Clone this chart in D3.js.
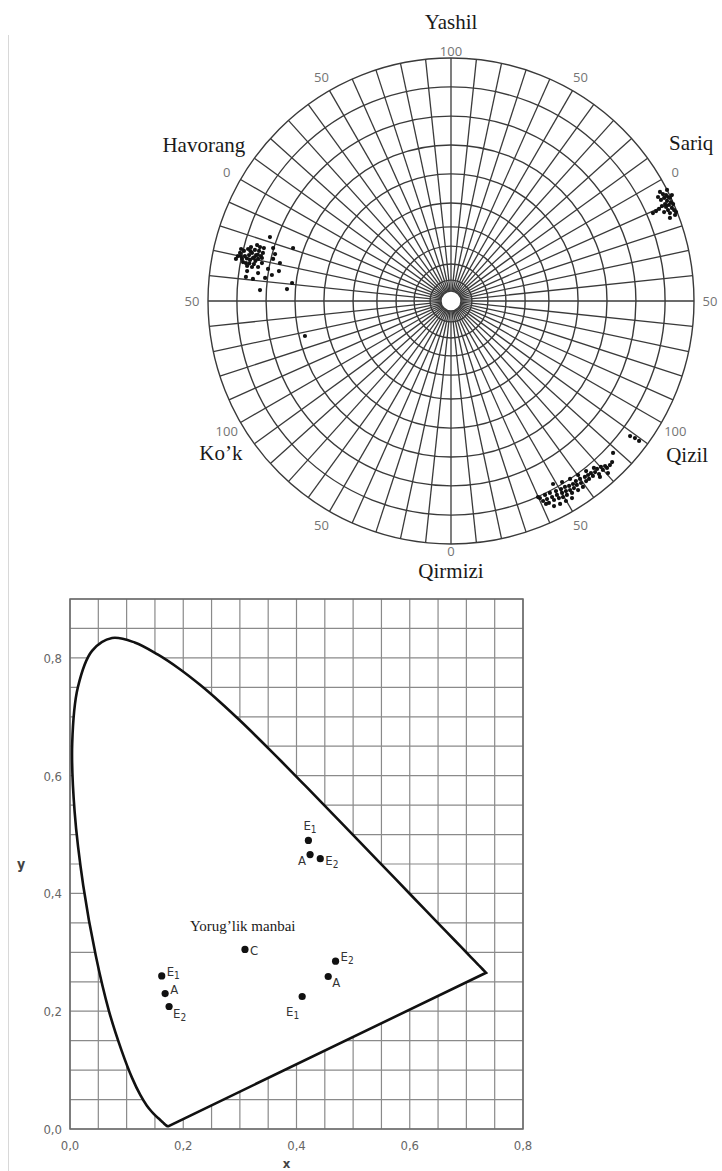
<!DOCTYPE html>
<html>
<head>
<meta charset="utf-8">
<script src="https://cdn.jsdelivr.net/npm/d3@7"></script>
<style>
  html, body { margin: 0; padding: 0; background: #fff; }
  svg { display: block; }
</style>
</head>
<body>
<svg id="chart" width="722" height="1171"></svg>
<script>
// ---------- Hue circle data ----------
const hueNames  = ["Yashil", "Sariq", "Qizil", "Qirmizi", "Ko\u2019k", "Havorang"];
const hueAngles = [90, 30, -30, -90, -150, 150];

const rimLabels = ["100", "50", "0", "50", "100", "50", "0", "50", "100", "50", "0", "50"];
const rimAngles = [90, 60, 30, 0, -30, -60, -90, -120, -150, 180, 150, 120];

// chroma levels of the concentric rings (outer ring = 100)
const ringLevels = [8.6, 15.2, 22.6, 30.5, 40.3, 52.3, 64.2, 76.1, 88.1, 100];
const holeLevel = 4.1;
const spokeStep = 6; // degrees between radial lines

// measured samples, [a, b] in chroma units
const havorangPts = [
  [-87.7,18.5],[-86.8,19.8],[-86.0,17.3],[-85.2,20.6],[-84.8,18.5],[-84.4,15.6],[-83.5,21.4],
  [-83.1,18.9],[-82.7,16.9],[-82.3,22.2],[-81.9,19.8],[-81.5,17.7],[-81.1,15.2],[-80.7,21.0],
  [-80.2,18.9],[-79.8,23.0],[-79.4,17.3],[-79.0,20.6],[-78.6,22.2],[-78.2,18.5],[-77.8,15.6],
  [-85.6,16.0],[-83.9,14.4],[-81.9,14.0],[-79.4,14.0],[-77.4,19.8],[-77.0,21.8],[-86.4,21.4],
  [-88.5,17.3],[-77.8,17.7],[-74.5,26.3],[-73.2,21.8],[-72.4,19.3],[-65.0,21.8],[-73.2,17.3],
  [-65.4,7.4],[-67.5,4.9],[-78.6,4.5],[-73.7,10.7],[-83.9,12.3],[-81.5,9.1],[-76.5,9.5],
  [-84.4,9.9],[-79.4,11.5],[-75.3,13.2],[-60.1,-14.4],[-70.4,15.6],[-70.8,12.3],
  [-84.0,17.5],[-82.5,20.5],[-80.5,16.5],[-83.0,15.5],[-81.0,18.0],[-79.5,19.0],[-86.5,18.5]
];
const sariqPts = [
  [86.0,44.9],[87.2,44.0],[88.5,43.6],[89.3,42.8],[90.1,42.4],[87.7,42.4],[86.4,41.6],
  [88.9,41.2],[90.5,40.7],[91.4,39.9],[88.1,39.9],[89.7,39.5],[86.8,39.1],[88.5,38.7],
  [90.9,38.3],[91.8,37.4],[89.3,37.4],[90.1,36.2],[85.6,37.9],[84.4,37.0],[83.1,36.2],
  [87.7,36.6],[92.6,36.6],[90.1,34.2],[92.2,35.4],[85.2,42.8],[90.9,43.6],[88.9,45.7]
];
const qizilPts = [
  [36.6,-81.1],[37.9,-82.3],[38.7,-79.8],[39.5,-81.5],[40.3,-83.1],[40.7,-79.0],[41.6,-80.7],
  [42.4,-81.9],[43.2,-78.2],[43.6,-79.8],[44.4,-81.1],[45.3,-77.4],[45.7,-79.0],[46.1,-80.7],
  [46.9,-76.5],[47.3,-78.2],[47.7,-79.8],[48.6,-76.1],[49.0,-77.8],[49.8,-79.0],[50.2,-75.3],
  [50.6,-77.0],[51.4,-74.1],[51.8,-75.7],[52.3,-77.8],[53.1,-73.2],[53.5,-74.9],[54.3,-76.5],
  [55.1,-72.4],[55.6,-74.1],[56.4,-71.6],[56.8,-73.2],[57.6,-70.8],[58.4,-72.0],[59.3,-70.4],
  [60.1,-69.1],[60.9,-71.2],[61.7,-68.3],[62.5,-69.5],[63.4,-67.9],[64.2,-68.7],[65.4,-67.5],
  [66.3,-66.3],[42.4,-84.4],[44.9,-83.5],[47.3,-82.3],[49.8,-81.1],[45.7,-74.5],[49.0,-73.2],
  [52.3,-71.6],[55.6,-70.0],[58.8,-68.7],[61.3,-72.4],[64.6,-70.8],[66.7,-62.5],[73.7,-55.6],
  [75.7,-56.4],[77.4,-57.6],[42.0,-75.3],[39.1,-83.5],[35.8,-80.7]
];

// ---------- Chromaticity diagram data ----------
// CIE 1931 spectral locus, 380–700 nm in 5 nm steps
const locusX = [0.1741,0.1740,0.1738,0.1736,0.1733,0.1730,0.1726,0.1721,0.1714,0.1703,0.1689,0.1669,
  0.1644,0.1611,0.1566,0.1510,0.1440,0.1355,0.1241,0.1096,0.0913,0.0687,0.0454,0.0235,0.0082,0.0039,
  0.0139,0.0389,0.0743,0.1142,0.1547,0.1929,0.2296,0.2658,0.3016,0.3373,0.3731,0.4087,0.4441,0.4788,
  0.5125,0.5448,0.5752,0.6029,0.6270,0.6482,0.6658,0.6801,0.6915,0.7006,0.7079,0.7140,0.7190,0.7230,
  0.7260,0.7283,0.7300,0.7311,0.7320,0.7327,0.7334,0.7340,0.7344,0.7346,0.7347];
const locusY = [0.0050,0.0050,0.0049,0.0049,0.0048,0.0048,0.0048,0.0048,0.0051,0.0058,0.0069,0.0086,
  0.0109,0.0138,0.0177,0.0227,0.0297,0.0399,0.0578,0.0868,0.1327,0.2007,0.2950,0.4127,0.5384,0.6548,
  0.7502,0.8120,0.8338,0.8262,0.8059,0.7816,0.7543,0.7243,0.6923,0.6589,0.6245,0.5896,0.5547,0.5202,
  0.4866,0.4544,0.4242,0.3965,0.3725,0.3514,0.3340,0.3197,0.3083,0.2993,0.2920,0.2859,0.2809,0.2770,
  0.2740,0.2717,0.2700,0.2689,0.2680,0.2673,0.2666,0.2660,0.2656,0.2654,0.2653];

const sourceNames = ["E1", "A", "E2", "C", "E2", "A", "E1", "E1", "A", "E2"];
const sourceX     = [0.421, 0.424, 0.442, 0.309, 0.469, 0.456, 0.410, 0.162, 0.168, 0.175];
const sourceY     = [0.490, 0.466, 0.459, 0.305, 0.285, 0.259, 0.225, 0.260, 0.230, 0.208];
// label placement relative to its dot
const sourceLabelPos = ["top", "leftBelow", "right", "right", "rightAbove", "rightBelow", "belowLeft", "rightAbove", "rightAbove", "rightBelow"];

const xTicks = [0, 0.2, 0.4, 0.6, 0.8];
const yTicks = [0, 0.2, 0.4, 0.6, 0.8];

const svg = d3.select("#chart");

// faint page rule on the left
svg.append("line").attr("x1", 8.5).attr("x2", 8.5).attr("y1", 35).attr("y2", 1171)
  .attr("stroke", "#d8d8d8").attr("stroke-width", 1);

// ================= Hue circle =================
const cx = 451, cy = 301, R = 243;
const rScale = d3.scaleLinear().domain([0, 100]).range([0, R]);
const aScale = d3.scaleLinear().domain([-100, 100]).range([cx - R, cx + R]);
const bScale = d3.scaleLinear().domain([-100, 100]).range([cy + R, cy - R]);
const polar = (deg, r) => [cx + r * Math.cos(deg * Math.PI / 180), cy - r * Math.sin(deg * Math.PI / 180)];

const gridColor = "#3a3a3a";
const gHue = svg.append("g");

// radial lines
const spokes = d3.range(0, 360, spokeStep);
gHue.selectAll("line.spoke").data(spokes).join("line")
  .attr("class", "spoke")
  .attr("x1", d => polar(d, rScale(holeLevel))[0])
  .attr("y1", d => polar(d, rScale(holeLevel))[1])
  .attr("x2", d => polar(d, rScale(100))[0])
  .attr("y2", d => polar(d, rScale(100))[1])
  .attr("stroke", gridColor).attr("stroke-width", 1.3);

// rings
gHue.selectAll("circle.ring").data(ringLevels).join("circle")
  .attr("class", "ring")
  .attr("cx", cx).attr("cy", cy).attr("r", d => rScale(d))
  .attr("fill", "none").attr("stroke", gridColor).attr("stroke-width", 1.4);

gHue.append("circle").attr("cx", cx).attr("cy", cy).attr("r", rScale(holeLevel))
  .attr("fill", "#fff").attr("stroke", gridColor).attr("stroke-width", 1.3);

// rim scale labels (top/bottom ones sit a little closer to the rim)
const rimRadius = a => (Math.abs(Math.abs(a) - 90) < 1 ? R + 7 : R + 16);
gHue.selectAll("text.rim").data(rimLabels).join("text")
  .attr("class", "rim")
  .attr("x", (d, i) => polar(rimAngles[i], rimRadius(rimAngles[i]))[0])
  .attr("y", (d, i) => polar(rimAngles[i], rimRadius(rimAngles[i]))[1])
  .attr("text-anchor", "middle").attr("dominant-baseline", "central")
  .attr("font-family", "Open Sans, DejaVu Sans, sans-serif").attr("font-size", 13)
  .attr("fill", "#747474").text(d => d);

// hue names
const nameOffsets = {
  "Yashil":   [0, -19],
  "Sariq":    [15, -28],
  "Qizil":    [11, 24],
  "Qirmizi":  [0, 10],
  "Ko\u2019k":[-5, 22],
  "Havorang": [-22, -26]
};
gHue.selectAll("text.hue").data(hueNames).join("text")
  .attr("class", "hue")
  .attr("x", (d, i) => polar(hueAngles[i], R + 17)[0] + nameOffsets[d][0])
  .attr("y", (d, i) => polar(hueAngles[i], R + 17)[1] + nameOffsets[d][1])
  .attr("text-anchor", "middle").attr("dominant-baseline", "central")
  .attr("font-family", "Liberation Serif, Times New Roman, serif").attr("font-size", 21)
  .attr("fill", "#1a1a1a").text(d => d);

// sample points
const allPts = havorangPts.concat(sariqPts, qizilPts);
gHue.selectAll("circle.pt").data(allPts).join("circle")
  .attr("class", "pt")
  .attr("cx", d => aScale(d[0])).attr("cy", d => bScale(d[1]))
  .attr("r", 2.1).attr("fill", "#111");

// ================= Chromaticity diagram =================
const x = d3.scaleLinear().domain([0, 0.8]).range([70, 523]);
const y = d3.scaleLinear().domain([0, 0.9]).range([1129, 599]);
const gC = svg.append("g");

const gridStep = d3.range(0, 0.8001, 0.05);
const gridStepY = d3.range(0, 0.9001, 0.05);
gC.selectAll("line.vx").data(gridStep).join("line")
  .attr("x1", d => x(d)).attr("x2", d => x(d))
  .attr("y1", y(0)).attr("y2", y(0.9))
  .attr("stroke", "#8a8a8a").attr("stroke-width", 1.2);
gC.selectAll("line.hy").data(gridStepY).join("line")
  .attr("y1", d => y(d)).attr("y2", d => y(d))
  .attr("x1", x(0)).attr("x2", x(0.8))
  .attr("stroke", "#8a8a8a").attr("stroke-width", 1.2);
gC.append("rect").attr("x", x(0)).attr("y", y(0.9))
  .attr("width", x(0.8) - x(0)).attr("height", y(0) - y(0.9))
  .attr("fill", "none").attr("stroke", "#6a6a6a").attr("stroke-width", 1.5);

const locus = locusX.map((v, i) => [v, locusY[i]]);
const locusLine = d3.line().x(d => x(d[0])).y(d => y(d[1])).curve(d3.curveCatmullRom.alpha(0.5));
gC.append("path")
  .attr("d", locusLine(locus) + "Z")
  .attr("fill", "#fff").attr("stroke", "#111").attr("stroke-width", 2.6)
  .attr("stroke-linejoin", "miter");

// axes tick labels
const tickFont = "DejaVu Sans Condensed, DejaVu Sans, sans-serif";
const fmt = d => d.toFixed(1).replace(".", ",");
gC.selectAll("text.xt").data(xTicks).join("text")
  .attr("x", d => x(d)).attr("y", y(0) + 21)
  .attr("text-anchor", "middle").attr("font-family", tickFont).attr("font-size", 13)
  .attr("fill", "#666").text(fmt);
gC.selectAll("text.yt").data(yTicks).join("text")
  .attr("x", x(0) - 8).attr("y", d => y(d) + 5)
  .attr("text-anchor", "end").attr("font-family", tickFont).attr("font-size", 13)
  .attr("fill", "#666").text(fmt);
gC.append("text").attr("x", (x(0) + x(0.8)) / 2 - 10).attr("y", 1168)
  .attr("text-anchor", "middle").attr("font-family", tickFont).attr("font-size", 13)
  .attr("font-weight", "bold").attr("fill", "#444").text("x");
gC.append("text").attr("x", 21).attr("y", y(0.45) + 5)
  .attr("text-anchor", "middle").attr("font-family", tickFont).attr("font-size", 14)
  .attr("font-weight", "bold").attr("fill", "#444").text("y");

// light sources
const sources = sourceNames.map((n, i) => ({ n, x: sourceX[i], y: sourceY[i], p: sourceLabelPos[i] }));
gC.selectAll("circle.src").data(sources).join("circle")
  .attr("cx", d => x(d.x)).attr("cy", d => y(d.y)).attr("r", 3.6).attr("fill", "#111");

const labelShift = {
  top:        [-5, -10, "start"],
  leftBelow:  [-4, 10, "end"],
  right:      [5, 6, "start"],
  rightAbove: [5, 0, "start"],
  rightBelow: [4, 11, "start"],
  belowLeft:  [-3, 19, "end"]
};
const lab = gC.selectAll("text.src").data(sources).join("text")
  .attr("x", d => x(d.x) + labelShift[d.p][0])
  .attr("y", d => y(d.y) + labelShift[d.p][1])
  .attr("text-anchor", d => labelShift[d.p][2])
  .attr("font-family", tickFont).attr("font-size", 13).attr("fill", "#333");
lab.append("tspan").text(d => d.n[0]);
lab.filter(d => d.n.length > 1).append("tspan")
  .attr("font-size", 10).attr("dy", 3).text(d => d.n.slice(1));

gC.append("text").attr("x", x(0.305)).attr("y", y(0.336))
  .attr("text-anchor", "middle").attr("font-family", "Liberation Serif, Times New Roman, serif")
  .attr("font-size", 15).attr("fill", "#1a1a1a").text("Yorug\u2019lik manbai");
</script>
</body>
</html>
